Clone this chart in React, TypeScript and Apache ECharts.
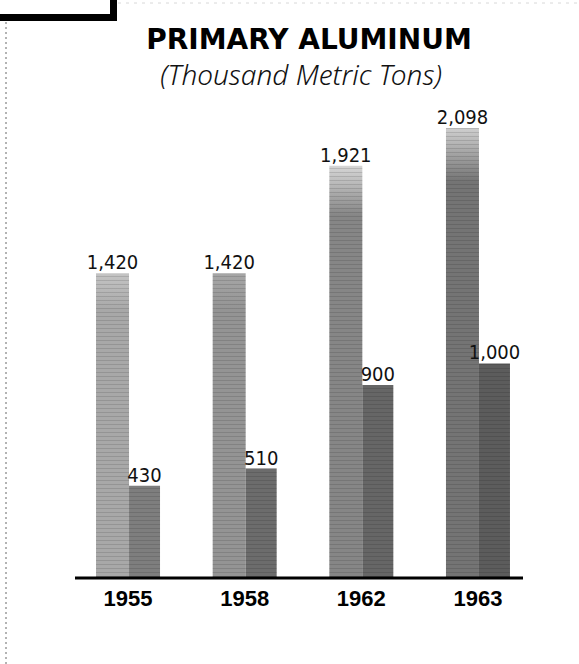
import React, { useEffect, useRef } from "react";
import * as echarts from "echarts";

const categories = ["1955", "1958", "1962", "1963"];
const totalValues = [1420, 1420, 1921, 2098];
const secondValues = [430, 510, 900, 1000];

const tallColors = [
  ["#c4c4c4", "#a8a8a8"],
  ["#a6a6a6", "#949494"],
  ["#d6d6d6", "#868686"],
  ["#cfcfcf", "#747474"],
];
const shortColors = ["#7e7e7e", "#6c6c6c", "#666666", "#5c5c5c"];

const fmt = (v: number) => v.toLocaleString("en-US");
const labelFont = "'Liberation Sans Narrow', 'DejaVu Sans Condensed', 'Roboto', sans-serif";

export default function App() {
  const ref = useRef<HTMLDivElement>(null);
  useEffect(() => {
    if (!ref.current) return;
    const chart = echarts.init(ref.current, null, { renderer: "svg" });
    const decal = {
      symbol: "rect",
      symbolSize: 1,
      dashArrayX: [1, 0],
      dashArrayY: [1, 3],
      color: "rgba(0,0,0,0.12)",
    };
    const valueLabel = {
      show: true,
      position: "top",
      distance: 1,
      formatter: (p: any) => fmt(p.value),
      fontFamily: labelFont,
      fontSize: 20,
      color: "#111",
    };
    chart.setOption({
      animation: false,
      backgroundColor: "#ffffff",
      grid: { left: 69.7, right: 42.7, top: 106, bottom: 86 },
      xAxis: {
        type: "category",
        data: categories,
        axisLine: { show: false },
        axisTick: { show: false },
        axisLabel: {
          fontFamily: "'Liberation Sans', sans-serif",
          fontWeight: "bold",
          fontSize: 22,
          color: "#000",
          margin: 9,
        },
      },
      yAxis: {
        type: "value",
        min: 0,
        max: 2200,
        show: false,
        splitLine: { show: false },
      },
      series: [
        {
          type: "bar",
          data: totalValues.map((v, i) => ({
            value: v,
            itemStyle: {
              color: new echarts.graphic.LinearGradient(0, 0, 0, 1, [
                { offset: 0, color: tallColors[i][0] },
                { offset: 0.12, color: tallColors[i][1] },
                { offset: 1, color: tallColors[i][1] },
              ]),
              decal,
            },
          })),
          barWidth: 33,
          barGap: "0%",
          label: valueLabel,
        },
        {
          type: "bar",
          data: secondValues.map((v, i) => ({
            value: v,
            itemStyle: { color: shortColors[i], decal },
          })),
          barWidth: 31,
          label: valueLabel,
        },
      ],
      graphic: [
        {
          type: "text",
          x: 309,
          y: 39,
          z: 100,
          style: {
            text: "PRIMARY ALUMINUM",
            fontFamily: "'DejaVu Sans', sans-serif",
            fontWeight: "bold",
            fontSize: 28,
            fill: "#000",
            align: "center",
            verticalAlign: "middle",
          },
        },
        {
          type: "text",
          x: 301,
          y: 74,
          z: 100,
          style: {
            text: "(Thousand Metric Tons)",
            fontFamily: "'Noto Sans', sans-serif",
            fontStyle: "italic",
            fontWeight: 300,
            fontSize: 28,
            fill: "#111",
            align: "center",
            verticalAlign: "middle",
          },
        },
        {
          type: "line",
          z: 100,
          shape: { x1: 75, y1: 578, x2: 523, y2: 578 },
          style: { stroke: "#000", lineWidth: 3 },
        },
        {
          type: "rect",
          z: 100,
          shape: { x: 0, y: 14, width: 117, height: 7 },
          style: { fill: "#000" },
        },
        {
          type: "rect",
          z: 100,
          shape: { x: 110, y: 0, width: 7, height: 21 },
          style: { fill: "#000" },
        },
        {
          type: "line",
          z: 100,
          shape: { x1: 6, y1: 22, x2: 6, y2: 664 },
          style: { stroke: "#9a9a9a", lineWidth: 1.5, lineDash: [2, 3] },
        },
        {
          type: "line",
          z: 100,
          shape: { x1: 118, y1: 3, x2: 579, y2: 3 },
          style: { stroke: "#d8d8d8", lineWidth: 1, lineDash: [3, 5] },
        },
      ],
    });
    return () => chart.dispose();
  }, []);
  return (
    <div
      ref={ref}
      style={{ position: "fixed", left: 0, top: 0, width: 579, height: 664 }}
    />
  );
}
